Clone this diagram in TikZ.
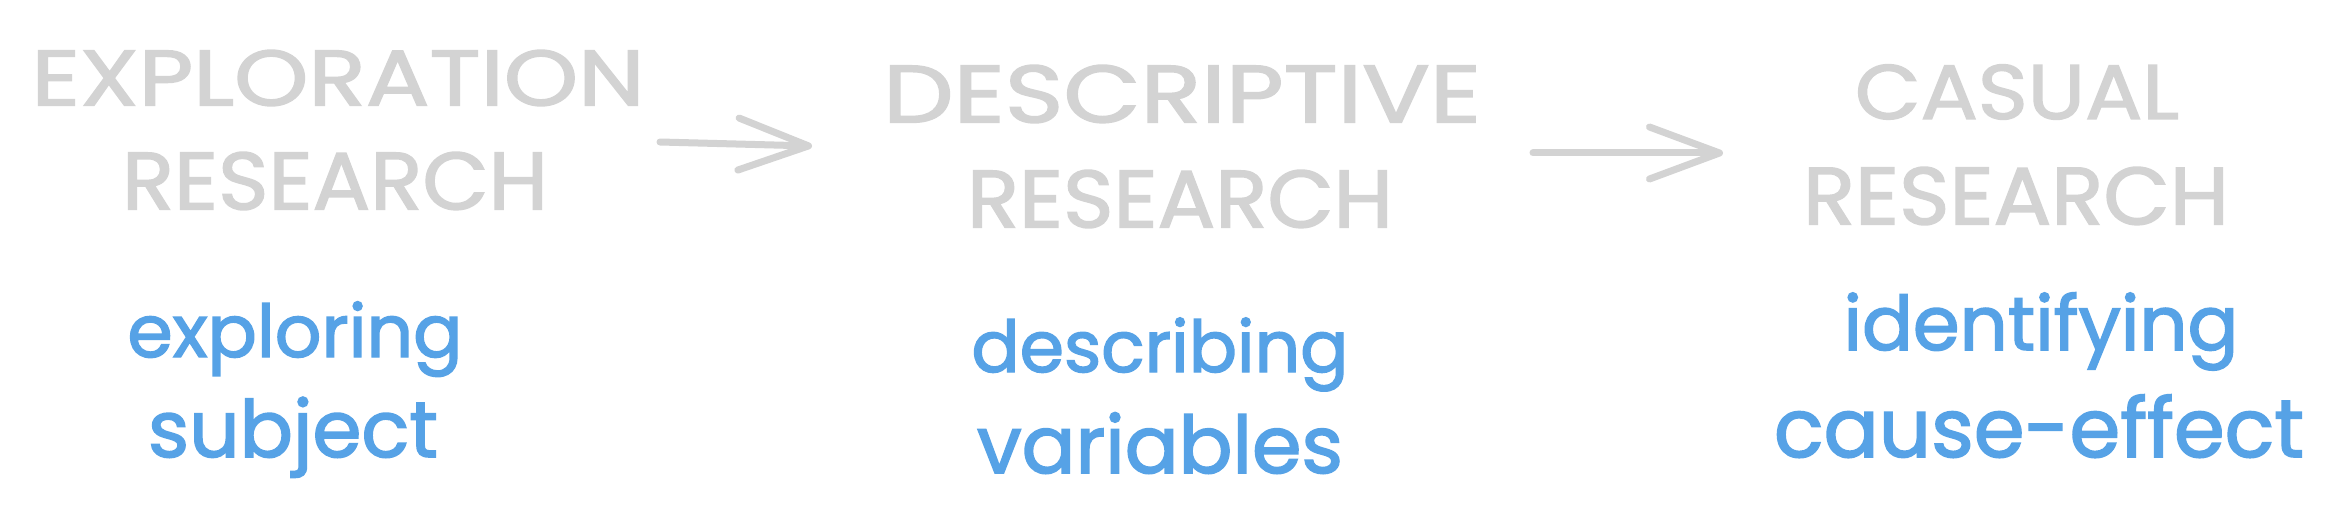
\documentclass[tikz,border=0pt]{standalone}
\usepackage{fontspec}
\usepackage{graphicx}
\setmainfont{Poppins}
\newfontfamily\headfont[FakeBold=1.8]{Poppins}
\newfontfamily\notefont[FakeBold=2]{Poppins}
\usetikzlibrary{arrows.meta}
\definecolor{capgray}{HTML}{D3D3D3}
\definecolor{handblue}{HTML}{56A2E6}
\newcommand{\fitbox}[3]{\resizebox*{#1pt}{#2pt}{#3}}
\newcommand{\widthbox}[2]{\resizebox{#1pt}{!}{#2}}
\begin{document}
\begin{tikzpicture}[x=1pt,y=-1pt,
  heading/.style={inner sep=0pt, outer sep=0pt, text=capgray, font=\headfont\fontsize{60}{60}\selectfont},
  note/.style={inner sep=0pt, outer sep=0pt, anchor=base, text=handblue, font=\notefont\fontsize{60}{60}\selectfont},
  flow/.style={draw=capgray, line width=7pt, line cap=round, line join=round,
    -{Straight Barb[length=70pt,width=52pt,round]}}]
\useasboundingbox (0,0) rectangle (2338,532);
\fill[white] (0,0) rectangle (2338,532);
% headings
\node[heading] (t1) at (338,78)  {\fitbox{613}{56}{EXPLORATION}};
\node[heading] (t2) at (335,181) {\fitbox{426}{58}{RESEARCH}};
\node[heading] (t3) at (1182,94) {\fitbox{598}{58}{DESCRIPTIVE}};
\node[heading] (t4) at (1180,199) {\fitbox{426}{58}{RESEARCH}};
\node[heading] (t5) at (2017,92) {\fitbox{324}{55}{CASUAL}};
\node[heading] (t6) at (2016,196) {\fitbox{426}{58}{RESEARCH}};
% notes
\node[note] (n1) at (295,357) {\widthbox{335}{exploring}};
\node[note] (n2) at (293,457) {\widthbox{290}{subject}};
\node[note] (n3) at (1160,372) {\widthbox{377}{describing}};
\node[note] (n4) at (1160,473) {\widthbox{366}{variables}};
\node[note] (n5) at (2041,350) {\widthbox{395}{identifying}};
\node[note] (n6) at (2039,457) {\widthbox{530}{cause-effect}};
% arrows
\coordinate (a1s) at (660,142);
\coordinate (a1e) at (812,146);
\coordinate (a2s) at (1533,153);
\coordinate (a2e) at (1723,153);
\draw[flow] (a1s) -- (a1e);
\draw[flow] (a2s) -- (a2e);
\end{tikzpicture}
\end{document}
